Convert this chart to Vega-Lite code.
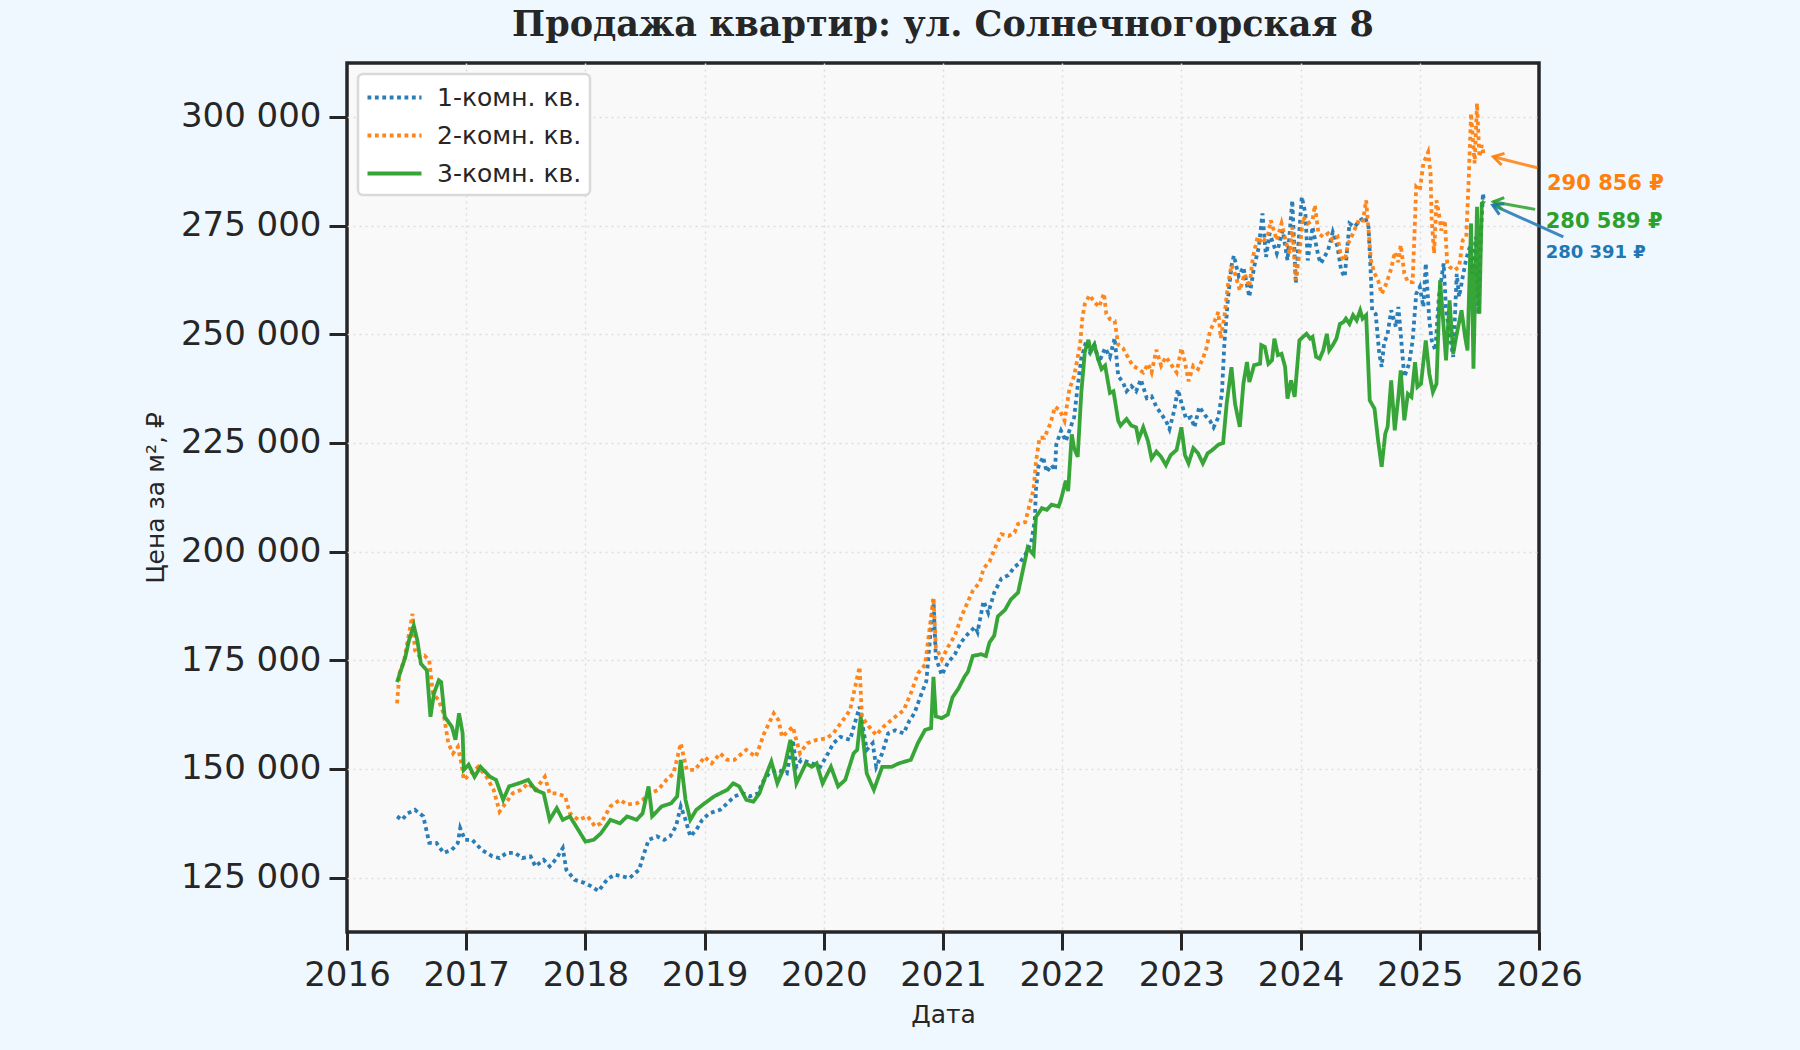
{
  "$schema": "https://vega.github.io/schema/vega-lite/v6.json",
  "description": "Apartment sales price per m2, Solnechnogorskaya 8",
  "autosize": {"type": "none"},
  "width": 1192,
  "height": 869,
  "padding": {"left": 347, "top": 63, "right": 261, "bottom": 118},
  "background": "#f0f8ff",
  "title": {
    "text": "Продажа квартир: ул. Солнечногорская 8",
    "font": "DejaVu Serif",
    "fontSize": 35,
    "fontWeight": "bold",
    "color": "#262626",
    "anchor": "middle",
    "offset": 20
  },
  "config": {
    "view": {"fill": "#f9f9f9", "stroke": "#262626", "strokeWidth": 3.5},
    "axis": {
      "domain": false,
      "labelFont": "DejaVu Sans",
      "labelFontSize": 34,
      "labelColor": "#262626",
      "labelPadding": 8,
      "labelFlush": false,
      "labelOverlap": false,
      "tickColor": "#262626",
      "tickWidth": 3,
      "tickSize": 18,
      "gridColor": "#dddddd",
      "gridDash": [2, 4],
      "gridWidth": 1.5,
      "titleFont": "DejaVu Sans",
      "titleFontSize": 25,
      "titleFontWeight": "normal",
      "titleColor": "#262626"
    },
    "legend": {"strokeWidth": 2.5}
  },
  "datasets": {
    "series": [
      {"k":"1","x":2016.42,"y":139100},{"k":"1","x":2016.46,"y":138300},{"k":"1","x":2016.51,"y":139800},{"k":"1","x":2016.57,"y":140600},
      {"k":"1","x":2016.64,"y":139100},{"k":"1","x":2016.69,"y":133000},{"k":"1","x":2016.75,"y":133000},{"k":"1","x":2016.81,"y":130700},
      {"k":"1","x":2016.88,"y":131400},{"k":"1","x":2016.93,"y":133000},{"k":"1","x":2016.95,"y":136400},{"k":"1","x":2016.99,"y":133700},
      {"k":"1","x":2017.05,"y":133700},{"k":"1","x":2017.13,"y":131400},{"k":"1","x":2017.22,"y":129900},{"k":"1","x":2017.28,"y":129500},
      {"k":"1","x":2017.34,"y":130700},{"k":"1","x":2017.41,"y":130700},{"k":"1","x":2017.47,"y":129500},{"k":"1","x":2017.54,"y":129900},
      {"k":"1","x":2017.58,"y":127600},{"k":"1","x":2017.65,"y":129100},{"k":"1","x":2017.70,"y":127600},{"k":"1","x":2017.76,"y":129500},
      {"k":"1","x":2017.81,"y":131800},{"k":"1","x":2017.84,"y":126800},{"k":"1","x":2017.91,"y":124500},{"k":"1","x":2017.99,"y":123800},
      {"k":"1","x":2018.05,"y":123000},{"k":"1","x":2018.11,"y":121900},{"k":"1","x":2018.18,"y":124500},{"k":"1","x":2018.24,"y":125700},
      {"k":"1","x":2018.31,"y":125300},{"k":"1","x":2018.37,"y":124900},{"k":"1","x":2018.45,"y":126800},{"k":"1","x":2018.48,"y":129500},
      {"k":"1","x":2018.53,"y":133700},{"k":"1","x":2018.60,"y":134500},{"k":"1","x":2018.66,"y":133700},{"k":"1","x":2018.71,"y":134500},
      {"k":"1","x":2018.76,"y":136800},{"k":"1","x":2018.80,"y":141400},{"k":"1","x":2018.84,"y":138300},{"k":"1","x":2018.88,"y":134500},
      {"k":"1","x":2018.93,"y":136000},{"k":"1","x":2018.98,"y":138300},{"k":"1","x":2019.04,"y":139800},{"k":"1","x":2019.13,"y":140600},
      {"k":"1","x":2019.19,"y":142100},{"k":"1","x":2019.25,"y":143700},{"k":"1","x":2019.32,"y":144400},{"k":"1","x":2019.38,"y":143700},
      {"k":"1","x":2019.45,"y":144400},{"k":"1","x":2019.48,"y":146700},{"k":"1","x":2019.54,"y":149000},{"k":"1","x":2019.61,"y":149800},
      {"k":"1","x":2019.69,"y":149000},{"k":"1","x":2019.74,"y":156700},{"k":"1","x":2019.77,"y":150500},{"k":"1","x":2019.81,"y":152100},
      {"k":"1","x":2019.90,"y":151300},{"k":"1","x":2019.97,"y":150500},{"k":"1","x":2020.02,"y":152800},{"k":"1","x":2020.08,"y":155900},
      {"k":"1","x":2020.14,"y":157400},{"k":"1","x":2020.22,"y":156700},{"k":"1","x":2020.30,"y":164300},{"k":"1","x":2020.36,"y":154400},
      {"k":"1","x":2020.41,"y":155900},{"k":"1","x":2020.44,"y":150500},{"k":"1","x":2020.49,"y":153600},{"k":"1","x":2020.54,"y":158200},
      {"k":"1","x":2020.60,"y":158900},{"k":"1","x":2020.67,"y":158200},{"k":"1","x":2020.72,"y":161200},{"k":"1","x":2020.76,"y":162800},
      {"k":"1","x":2020.81,"y":166600},{"k":"1","x":2020.86,"y":170200},{"k":"1","x":2020.92,"y":189000},{"k":"1","x":2020.94,"y":175600},
      {"k":"1","x":2020.99,"y":171600},{"k":"1","x":2021.04,"y":174400},{"k":"1","x":2021.10,"y":176400},{"k":"1","x":2021.15,"y":179100},
      {"k":"1","x":2021.21,"y":181100},{"k":"1","x":2021.27,"y":182700},{"k":"1","x":2021.29,"y":181500},{"k":"1","x":2021.34,"y":188600},
      {"k":"1","x":2021.38,"y":185900},{"k":"1","x":2021.43,"y":190600},{"k":"1","x":2021.49,"y":193800},{"k":"1","x":2021.55,"y":194600},
      {"k":"1","x":2021.60,"y":196500},{"k":"1","x":2021.64,"y":197300},{"k":"1","x":2021.69,"y":199300},{"k":"1","x":2021.74,"y":202100},
      {"k":"1","x":2021.77,"y":207200},{"k":"1","x":2021.78,"y":214300},{"k":"1","x":2021.80,"y":219500},{"k":"1","x":2021.84,"y":221800},
      {"k":"1","x":2021.87,"y":218300},{"k":"1","x":2021.91,"y":219900},{"k":"1","x":2021.94,"y":218700},{"k":"1","x":2021.95,"y":224600},
      {"k":"1","x":2021.99,"y":227800},{"k":"1","x":2022.03,"y":225400},{"k":"1","x":2022.08,"y":229400},{"k":"1","x":2022.10,"y":230900},
      {"k":"1","x":2022.13,"y":238100},{"k":"1","x":2022.16,"y":244400},{"k":"1","x":2022.20,"y":248300},{"k":"1","x":2022.23,"y":246000},
      {"k":"1","x":2022.27,"y":247600},{"k":"1","x":2022.31,"y":243600},{"k":"1","x":2022.36,"y":246800},{"k":"1","x":2022.40,"y":244800},
      {"k":"1","x":2022.44,"y":249100},{"k":"1","x":2022.47,"y":240400},{"k":"1","x":2022.51,"y":238900},{"k":"1","x":2022.54,"y":236900},
      {"k":"1","x":2022.58,"y":238100},{"k":"1","x":2022.62,"y":236900},{"k":"1","x":2022.66,"y":239600},{"k":"1","x":2022.71,"y":235300},
      {"k":"1","x":2022.75,"y":235700},{"k":"1","x":2022.79,"y":233300},{"k":"1","x":2022.83,"y":231700},{"k":"1","x":2022.87,"y":230100},
      {"k":"1","x":2022.90,"y":228200},{"k":"1","x":2022.94,"y":232500},{"k":"1","x":2022.97,"y":237300},{"k":"1","x":2023.01,"y":233300},
      {"k":"1","x":2023.04,"y":230500},{"k":"1","x":2023.08,"y":230900},{"k":"1","x":2023.11,"y":228600},{"k":"1","x":2023.15,"y":233300},
      {"k":"1","x":2023.20,"y":231300},{"k":"1","x":2023.24,"y":230100},{"k":"1","x":2023.27,"y":228600},{"k":"1","x":2023.31,"y":230900},
      {"k":"1","x":2023.34,"y":236500},{"k":"1","x":2023.36,"y":247600},{"k":"1","x":2023.39,"y":258000},{"k":"1","x":2023.42,"y":265700},
      {"k":"1","x":2023.44,"y":268100},{"k":"1","x":2023.48,"y":263400},{"k":"1","x":2023.52,"y":265400},{"k":"1","x":2023.57,"y":258600},
      {"k":"1","x":2023.61,"y":265500},{"k":"1","x":2023.65,"y":270100},{"k":"1","x":2023.68,"y":277800},{"k":"1","x":2023.71,"y":267800},
      {"k":"1","x":2023.74,"y":273200},{"k":"1","x":2023.78,"y":270100},{"k":"1","x":2023.80,"y":268600},{"k":"1","x":2023.85,"y":273900},
      {"k":"1","x":2023.89,"y":267000},{"k":"1","x":2023.93,"y":280800},{"k":"1","x":2023.96,"y":261700},{"k":"1","x":2023.98,"y":270100},
      {"k":"1","x":2024.01,"y":281600},{"k":"1","x":2024.04,"y":277800},{"k":"1","x":2024.06,"y":267000},{"k":"1","x":2024.10,"y":274700},
      {"k":"1","x":2024.15,"y":267800},{"k":"1","x":2024.17,"y":266300},{"k":"1","x":2024.23,"y":269300},{"k":"1","x":2024.27,"y":273500},
      {"k":"1","x":2024.31,"y":270100},{"k":"1","x":2024.34,"y":264700},{"k":"1","x":2024.37,"y":263200},{"k":"1","x":2024.41,"y":275500},
      {"k":"1","x":2024.45,"y":274700},{"k":"1","x":2024.50,"y":276200},{"k":"1","x":2024.54,"y":277000},{"k":"1","x":2024.57,"y":274700},
      {"k":"1","x":2024.59,"y":263200},{"k":"1","x":2024.60,"y":255500},{"k":"1","x":2024.63,"y":254700},{"k":"1","x":2024.66,"y":245500},
      {"k":"1","x":2024.68,"y":242500},{"k":"1","x":2024.70,"y":247900},{"k":"1","x":2024.73,"y":250100},{"k":"1","x":2024.76,"y":255500},
      {"k":"1","x":2024.80,"y":251700},{"k":"1","x":2024.82,"y":256300},{"k":"1","x":2024.84,"y":250100},{"k":"1","x":2024.87,"y":240200},
      {"k":"1","x":2024.91,"y":243200},{"k":"1","x":2024.94,"y":248600},{"k":"1","x":2024.97,"y":259300},{"k":"1","x":2025.00,"y":260900},
      {"k":"1","x":2025.03,"y":256300},{"k":"1","x":2025.05,"y":266300},{"k":"1","x":2025.08,"y":253200},{"k":"1","x":2025.10,"y":248600},
      {"k":"1","x":2025.13,"y":246300},{"k":"1","x":2025.16,"y":258600},{"k":"1","x":2025.20,"y":266300},{"k":"1","x":2025.22,"y":255500},
      {"k":"1","x":2025.25,"y":250100},{"k":"1","x":2025.28,"y":244800},{"k":"1","x":2025.31,"y":263900},{"k":"1","x":2025.33,"y":258600},
      {"k":"1","x":2025.36,"y":263200},{"k":"1","x":2025.39,"y":267400},{"k":"1","x":2025.42,"y":270100},{"k":"1","x":2025.44,"y":263900},
      {"k":"1","x":2025.47,"y":272400},{"k":"1","x":2025.49,"y":254700},{"k":"1","x":2025.51,"y":271600},{"k":"1","x":2025.53,"y":282400},
      {"k":"1","x":2025.54,"y":280391},

      {"k":"2","x":2016.42,"y":165100},{"k":"2","x":2016.44,"y":172000},{"k":"2","x":2016.48,"y":175000},{"k":"2","x":2016.52,"y":181100},
      {"k":"2","x":2016.55,"y":185700},{"k":"2","x":2016.57,"y":177300},{"k":"2","x":2016.61,"y":175800},{"k":"2","x":2016.65,"y":176100},
      {"k":"2","x":2016.69,"y":175000},{"k":"2","x":2016.72,"y":167400},{"k":"2","x":2016.77,"y":165800},{"k":"2","x":2016.81,"y":162800},
      {"k":"2","x":2016.85,"y":155900},{"k":"2","x":2016.89,"y":153600},{"k":"2","x":2016.93,"y":155100},{"k":"2","x":2016.96,"y":151300},
      {"k":"2","x":2016.98,"y":147500},{"k":"2","x":2017.04,"y":149000},{"k":"2","x":2017.10,"y":150500},{"k":"2","x":2017.17,"y":148200},
      {"k":"2","x":2017.23,"y":145200},{"k":"2","x":2017.28,"y":140200},{"k":"2","x":2017.33,"y":142100},{"k":"2","x":2017.39,"y":144400},
      {"k":"2","x":2017.46,"y":145200},{"k":"2","x":2017.52,"y":146700},{"k":"2","x":2017.58,"y":145200},{"k":"2","x":2017.66,"y":148200},
      {"k":"2","x":2017.70,"y":144400},{"k":"2","x":2017.76,"y":144400},{"k":"2","x":2017.83,"y":143700},{"k":"2","x":2017.87,"y":139800},
      {"k":"2","x":2017.94,"y":138300},{"k":"2","x":2018.02,"y":139100},{"k":"2","x":2018.08,"y":136800},{"k":"2","x":2018.13,"y":137500},
      {"k":"2","x":2018.21,"y":141400},{"k":"2","x":2018.29,"y":142900},{"k":"2","x":2018.35,"y":141800},{"k":"2","x":2018.43,"y":142100},
      {"k":"2","x":2018.48,"y":142900},{"k":"2","x":2018.54,"y":144400},{"k":"2","x":2018.61,"y":145200},{"k":"2","x":2018.68,"y":147500},
      {"k":"2","x":2018.74,"y":149000},{"k":"2","x":2018.80,"y":155900},{"k":"2","x":2018.85,"y":149800},{"k":"2","x":2018.92,"y":149800},
      {"k":"2","x":2019.00,"y":152800},{"k":"2","x":2019.06,"y":151300},{"k":"2","x":2019.13,"y":153600},{"k":"2","x":2019.19,"y":152100},
      {"k":"2","x":2019.25,"y":152100},{"k":"2","x":2019.35,"y":154400},{"k":"2","x":2019.43,"y":152800},{"k":"2","x":2019.50,"y":158200},
      {"k":"2","x":2019.58,"y":162800},{"k":"2","x":2019.62,"y":161200},{"k":"2","x":2019.65,"y":157400},{"k":"2","x":2019.74,"y":159700},
      {"k":"2","x":2019.80,"y":153600},{"k":"2","x":2019.86,"y":155900},{"k":"2","x":2019.94,"y":156700},{"k":"2","x":2020.02,"y":157000},
      {"k":"2","x":2020.08,"y":158200},{"k":"2","x":2020.16,"y":161200},{"k":"2","x":2020.22,"y":163500},{"k":"2","x":2020.30,"y":173500},
      {"k":"2","x":2020.32,"y":162000},{"k":"2","x":2020.38,"y":159700},{"k":"2","x":2020.44,"y":157800},{"k":"2","x":2020.50,"y":159700},
      {"k":"2","x":2020.60,"y":162000},{"k":"2","x":2020.67,"y":163500},{"k":"2","x":2020.73,"y":167400},{"k":"2","x":2020.79,"y":172000},
      {"k":"2","x":2020.85,"y":174000},{"k":"2","x":2020.92,"y":189400},{"k":"2","x":2020.94,"y":178000},{"k":"2","x":2020.99,"y":175200},
      {"k":"2","x":2021.04,"y":178000},{"k":"2","x":2021.10,"y":180700},{"k":"2","x":2021.15,"y":184700},{"k":"2","x":2021.21,"y":188600},
      {"k":"2","x":2021.25,"y":191000},{"k":"2","x":2021.31,"y":193000},{"k":"2","x":2021.34,"y":196100},{"k":"2","x":2021.39,"y":197700},
      {"k":"2","x":2021.45,"y":201700},{"k":"2","x":2021.49,"y":204000},{"k":"2","x":2021.55,"y":203600},{"k":"2","x":2021.60,"y":204400},
      {"k":"2","x":2021.63,"y":206400},{"k":"2","x":2021.69,"y":206800},{"k":"2","x":2021.73,"y":211200},{"k":"2","x":2021.76,"y":214300},
      {"k":"2","x":2021.78,"y":220700},{"k":"2","x":2021.81,"y":226200},{"k":"2","x":2021.85,"y":226200},{"k":"2","x":2021.90,"y":229400},
      {"k":"2","x":2021.94,"y":233300},{"k":"2","x":2021.98,"y":232500},{"k":"2","x":2022.02,"y":230100},{"k":"2","x":2022.06,"y":237300},
      {"k":"2","x":2022.10,"y":240400},{"k":"2","x":2022.15,"y":247600},{"k":"2","x":2022.17,"y":253900},{"k":"2","x":2022.19,"y":257000},
      {"k":"2","x":2022.23,"y":259000},{"k":"2","x":2022.27,"y":257400},{"k":"2","x":2022.31,"y":256300},{"k":"2","x":2022.35,"y":259400},
      {"k":"2","x":2022.37,"y":254700},{"k":"2","x":2022.40,"y":253500},{"k":"2","x":2022.44,"y":253100},{"k":"2","x":2022.47,"y":247600},
      {"k":"2","x":2022.51,"y":246800},{"k":"2","x":2022.55,"y":244800},{"k":"2","x":2022.59,"y":242800},{"k":"2","x":2022.64,"y":242000},
      {"k":"2","x":2022.68,"y":241200},{"k":"2","x":2022.72,"y":243200},{"k":"2","x":2022.75,"y":241200},{"k":"2","x":2022.79,"y":246400},
      {"k":"2","x":2022.83,"y":242800},{"k":"2","x":2022.87,"y":244800},{"k":"2","x":2022.92,"y":242800},{"k":"2","x":2022.96,"y":241200},
      {"k":"2","x":2023.00,"y":246800},{"k":"2","x":2023.03,"y":243600},{"k":"2","x":2023.06,"y":239200},{"k":"2","x":2023.10,"y":242800},
      {"k":"2","x":2023.14,"y":242000},{"k":"2","x":2023.18,"y":244400},{"k":"2","x":2023.21,"y":246800},{"k":"2","x":2023.24,"y":250700},
      {"k":"2","x":2023.28,"y":253100},{"k":"2","x":2023.31,"y":255100},{"k":"2","x":2023.33,"y":249100},{"k":"2","x":2023.36,"y":253900},
      {"k":"2","x":2023.39,"y":261300},{"k":"2","x":2023.42,"y":265900},{"k":"2","x":2023.45,"y":263900},{"k":"2","x":2023.49,"y":260100},
      {"k":"2","x":2023.53,"y":263900},{"k":"2","x":2023.57,"y":260900},{"k":"2","x":2023.60,"y":267800},{"k":"2","x":2023.64,"y":272400},
      {"k":"2","x":2023.68,"y":270900},{"k":"2","x":2023.73,"y":273200},{"k":"2","x":2023.75,"y":276200},{"k":"2","x":2023.80,"y":271600},
      {"k":"2","x":2023.84,"y":275500},{"k":"2","x":2023.88,"y":270900},{"k":"2","x":2023.91,"y":268600},{"k":"2","x":2023.93,"y":274700},
      {"k":"2","x":2023.96,"y":262400},{"k":"2","x":2023.99,"y":268600},{"k":"2","x":2024.02,"y":277000},{"k":"2","x":2024.06,"y":275500},
      {"k":"2","x":2024.10,"y":276200},{"k":"2","x":2024.12,"y":279700},{"k":"2","x":2024.15,"y":273200},{"k":"2","x":2024.19,"y":272400},
      {"k":"2","x":2024.23,"y":273200},{"k":"2","x":2024.27,"y":271600},{"k":"2","x":2024.31,"y":272400},{"k":"2","x":2024.34,"y":267800},
      {"k":"2","x":2024.37,"y":267000},{"k":"2","x":2024.40,"y":270900},{"k":"2","x":2024.44,"y":273200},{"k":"2","x":2024.48,"y":275800},
      {"k":"2","x":2024.52,"y":275500},{"k":"2","x":2024.55,"y":280800},{"k":"2","x":2024.57,"y":273900},{"k":"2","x":2024.59,"y":267000},
      {"k":"2","x":2024.62,"y":264000},{"k":"2","x":2024.65,"y":262400},{"k":"2","x":2024.68,"y":259300},{"k":"2","x":2024.72,"y":261700},
      {"k":"2","x":2024.76,"y":265100},{"k":"2","x":2024.79,"y":268900},{"k":"2","x":2024.82,"y":266600},{"k":"2","x":2024.84,"y":270500},
      {"k":"2","x":2024.87,"y":264000},{"k":"2","x":2024.90,"y":262000},{"k":"2","x":2024.94,"y":262000},{"k":"2","x":2024.97,"y":283900},
      {"k":"2","x":2025.00,"y":283100},{"k":"2","x":2025.03,"y":289300},{"k":"2","x":2025.07,"y":291900},{"k":"2","x":2025.09,"y":287000},
      {"k":"2","x":2025.10,"y":276200},{"k":"2","x":2025.12,"y":268600},{"k":"2","x":2025.14,"y":280800},{"k":"2","x":2025.16,"y":277800},
      {"k":"2","x":2025.18,"y":273900},{"k":"2","x":2025.21,"y":276200},{"k":"2","x":2025.23,"y":266300},{"k":"2","x":2025.25,"y":265500},
      {"k":"2","x":2025.29,"y":264700},{"k":"2","x":2025.33,"y":265500},{"k":"2","x":2025.36,"y":271600},{"k":"2","x":2025.39,"y":272400},
      {"k":"2","x":2025.41,"y":285400},{"k":"2","x":2025.43,"y":300800},{"k":"2","x":2025.46,"y":289300},{"k":"2","x":2025.48,"y":303100},
      {"k":"2","x":2025.50,"y":290800},{"k":"2","x":2025.52,"y":293500},{"k":"2","x":2025.54,"y":290856},

      {"k":"3","x":2016.42,"y":170000},{"k":"3","x":2016.49,"y":175800},{"k":"3","x":2016.52,"y":179600},{"k":"3","x":2016.56,"y":183000},
      {"k":"3","x":2016.59,"y":179600},{"k":"3","x":2016.62,"y":174200},{"k":"3","x":2016.67,"y":172700},{"k":"3","x":2016.70,"y":162000},
      {"k":"3","x":2016.73,"y":167400},{"k":"3","x":2016.77,"y":170400},{"k":"3","x":2016.79,"y":170000},{"k":"3","x":2016.82,"y":162000},
      {"k":"3","x":2016.88,"y":159700},{"k":"3","x":2016.91,"y":156700},{"k":"3","x":2016.94,"y":162800},{"k":"3","x":2016.97,"y":158200},
      {"k":"3","x":2016.98,"y":149800},{"k":"3","x":2017.02,"y":151000},{"k":"3","x":2017.07,"y":148200},{"k":"3","x":2017.12,"y":150500},
      {"k":"3","x":2017.20,"y":148200},{"k":"3","x":2017.25,"y":147500},{"k":"3","x":2017.31,"y":142900},{"k":"3","x":2017.36,"y":146000},
      {"k":"3","x":2017.44,"y":146700},{"k":"3","x":2017.52,"y":147500},{"k":"3","x":2017.58,"y":145200},{"k":"3","x":2017.65,"y":144400},
      {"k":"3","x":2017.70,"y":138300},{"k":"3","x":2017.76,"y":141000},{"k":"3","x":2017.81,"y":138300},{"k":"3","x":2017.87,"y":139100},
      {"k":"3","x":2017.94,"y":136000},{"k":"3","x":2018.00,"y":133300},{"k":"3","x":2018.07,"y":133700},{"k":"3","x":2018.13,"y":135200},
      {"k":"3","x":2018.21,"y":138300},{"k":"3","x":2018.29,"y":137500},{"k":"3","x":2018.35,"y":139100},{"k":"3","x":2018.43,"y":138300},
      {"k":"3","x":2018.48,"y":139800},{"k":"3","x":2018.53,"y":146000},{"k":"3","x":2018.56,"y":139100},{"k":"3","x":2018.64,"y":141400},
      {"k":"3","x":2018.72,"y":142100},{"k":"3","x":2018.77,"y":143700},{"k":"3","x":2018.80,"y":152100},{"k":"3","x":2018.84,"y":142900},
      {"k":"3","x":2018.88,"y":138300},{"k":"3","x":2018.93,"y":140600},{"k":"3","x":2019.00,"y":142100},{"k":"3","x":2019.08,"y":143700},
      {"k":"3","x":2019.13,"y":144400},{"k":"3","x":2019.19,"y":145200},{"k":"3","x":2019.24,"y":146700},{"k":"3","x":2019.29,"y":146000},
      {"k":"3","x":2019.35,"y":142900},{"k":"3","x":2019.41,"y":142500},{"k":"3","x":2019.46,"y":144400},{"k":"3","x":2019.51,"y":148200},
      {"k":"3","x":2019.56,"y":151700},{"k":"3","x":2019.61,"y":146700},{"k":"3","x":2019.67,"y":150500},{"k":"3","x":2019.72,"y":156700},
      {"k":"3","x":2019.77,"y":146700},{"k":"3","x":2019.85,"y":151300},{"k":"3","x":2019.90,"y":150500},{"k":"3","x":2019.94,"y":151300},
      {"k":"3","x":2019.99,"y":146700},{"k":"3","x":2020.06,"y":150500},{"k":"3","x":2020.12,"y":146000},{"k":"3","x":2020.18,"y":147500},
      {"k":"3","x":2020.25,"y":153600},{"k":"3","x":2020.28,"y":154400},{"k":"3","x":2020.31,"y":162000},{"k":"3","x":2020.36,"y":149000},
      {"k":"3","x":2020.42,"y":145200},{"k":"3","x":2020.49,"y":150500},{"k":"3","x":2020.57,"y":150500},{"k":"3","x":2020.63,"y":151300},
      {"k":"3","x":2020.73,"y":152100},{"k":"3","x":2020.79,"y":156000},{"k":"3","x":2020.85,"y":159000},{"k":"3","x":2020.90,"y":159400},
      {"k":"3","x":2020.92,"y":171200},{"k":"3","x":2020.94,"y":162100},{"k":"3","x":2020.99,"y":161700},{"k":"3","x":2021.04,"y":162500},
      {"k":"3","x":2021.08,"y":166500},{"k":"3","x":2021.13,"y":168500},{"k":"3","x":2021.18,"y":171200},{"k":"3","x":2021.21,"y":172400},
      {"k":"3","x":2021.25,"y":176000},{"k":"3","x":2021.32,"y":176400},{"k":"3","x":2021.36,"y":176000},{"k":"3","x":2021.39,"y":179100},
      {"k":"3","x":2021.43,"y":180700},{"k":"3","x":2021.46,"y":185100},{"k":"3","x":2021.52,"y":186600},{"k":"3","x":2021.57,"y":189000},
      {"k":"3","x":2021.63,"y":190600},{"k":"3","x":2021.67,"y":195700},{"k":"3","x":2021.71,"y":200900},{"k":"3","x":2021.76,"y":199300},
      {"k":"3","x":2021.78,"y":208000},{"k":"3","x":2021.83,"y":210000},{"k":"3","x":2021.87,"y":209600},{"k":"3","x":2021.91,"y":210800},
      {"k":"3","x":2021.97,"y":210400},{"k":"3","x":2021.99,"y":212000},{"k":"3","x":2022.03,"y":216300},{"k":"3","x":2022.05,"y":213900},
      {"k":"3","x":2022.08,"y":227000},{"k":"3","x":2022.10,"y":223800},{"k":"3","x":2022.13,"y":221800},{"k":"3","x":2022.16,"y":236500},
      {"k":"3","x":2022.19,"y":246000},{"k":"3","x":2022.22,"y":248700},{"k":"3","x":2022.24,"y":246000},{"k":"3","x":2022.27,"y":247600},
      {"k":"3","x":2022.30,"y":244400},{"k":"3","x":2022.33,"y":242000},{"k":"3","x":2022.36,"y":242800},{"k":"3","x":2022.40,"y":236500},
      {"k":"3","x":2022.43,"y":236900},{"k":"3","x":2022.47,"y":230100},{"k":"3","x":2022.49,"y":229000},{"k":"3","x":2022.54,"y":230500},
      {"k":"3","x":2022.58,"y":229000},{"k":"3","x":2022.62,"y":228600},{"k":"3","x":2022.64,"y":225800},{"k":"3","x":2022.68,"y":228600},
      {"k":"3","x":2022.72,"y":225400},{"k":"3","x":2022.75,"y":221400},{"k":"3","x":2022.79,"y":223000},{"k":"3","x":2022.83,"y":221800},
      {"k":"3","x":2022.87,"y":219900},{"k":"3","x":2022.91,"y":222200},{"k":"3","x":2022.96,"y":223400},{"k":"3","x":2023.00,"y":228600},
      {"k":"3","x":2023.03,"y":222200},{"k":"3","x":2023.06,"y":220300},{"k":"3","x":2023.10,"y":223800},{"k":"3","x":2023.14,"y":222600},
      {"k":"3","x":2023.18,"y":220300},{"k":"3","x":2023.22,"y":222600},{"k":"3","x":2023.26,"y":223400},{"k":"3","x":2023.31,"y":224600},
      {"k":"3","x":2023.35,"y":225000},{"k":"3","x":2023.38,"y":234100},{"k":"3","x":2023.42,"y":242400},{"k":"3","x":2023.45,"y":234000},
      {"k":"3","x":2023.49,"y":228700},{"k":"3","x":2023.52,"y":238600},{"k":"3","x":2023.55,"y":243600},{"k":"3","x":2023.57,"y":239000},
      {"k":"3","x":2023.61,"y":242900},{"k":"3","x":2023.66,"y":243200},{"k":"3","x":2023.67,"y":247500},{"k":"3","x":2023.70,"y":247100},
      {"k":"3","x":2023.73,"y":243200},{"k":"3","x":2023.76,"y":244000},{"k":"3","x":2023.78,"y":249000},{"k":"3","x":2023.81,"y":245200},
      {"k":"3","x":2023.84,"y":245500},{"k":"3","x":2023.87,"y":242500},{"k":"3","x":2023.89,"y":235200},{"k":"3","x":2023.92,"y":239400},
      {"k":"3","x":2023.95,"y":235600},{"k":"3","x":2023.99,"y":248600},{"k":"3","x":2024.02,"y":249400},{"k":"3","x":2024.05,"y":250100},
      {"k":"3","x":2024.08,"y":249000},{"k":"3","x":2024.10,"y":249400},{"k":"3","x":2024.13,"y":244800},{"k":"3","x":2024.16,"y":244400},
      {"k":"3","x":2024.19,"y":246300},{"k":"3","x":2024.22,"y":250100},{"k":"3","x":2024.24,"y":246300},{"k":"3","x":2024.27,"y":247500},
      {"k":"3","x":2024.30,"y":249000},{"k":"3","x":2024.33,"y":252400},{"k":"3","x":2024.36,"y":252800},{"k":"3","x":2024.38,"y":253600},
      {"k":"3","x":2024.41,"y":252400},{"k":"3","x":2024.44,"y":254400},{"k":"3","x":2024.47,"y":253200},{"k":"3","x":2024.50,"y":255500},
      {"k":"3","x":2024.52,"y":253600},{"k":"3","x":2024.55,"y":254400},{"k":"3","x":2024.58,"y":234800},{"k":"3","x":2024.62,"y":232900},
      {"k":"3","x":2024.65,"y":225600},{"k":"3","x":2024.68,"y":219500},{"k":"3","x":2024.71,"y":227100},{"k":"3","x":2024.73,"y":228700},
      {"k":"3","x":2024.76,"y":239400},{"k":"3","x":2024.79,"y":227900},{"k":"3","x":2024.82,"y":235600},{"k":"3","x":2024.84,"y":241700},
      {"k":"3","x":2024.87,"y":230200},{"k":"3","x":2024.90,"y":236300},{"k":"3","x":2024.93,"y":235600},{"k":"3","x":2024.96,"y":243600},
      {"k":"3","x":2024.98,"y":237900},{"k":"3","x":2025.01,"y":238600},{"k":"3","x":2025.05,"y":248600},{"k":"3","x":2025.08,"y":240900},
      {"k":"3","x":2025.11,"y":236700},{"k":"3","x":2025.14,"y":238600},{"k":"3","x":2025.17,"y":262400},{"k":"3","x":2025.20,"y":251700},
      {"k":"3","x":2025.22,"y":244000},{"k":"3","x":2025.25,"y":257800},{"k":"3","x":2025.28,"y":245500},{"k":"3","x":2025.31,"y":250100},
      {"k":"3","x":2025.35,"y":255500},{"k":"3","x":2025.38,"y":249400},{"k":"3","x":2025.40,"y":246300},{"k":"3","x":2025.43,"y":275500},
      {"k":"3","x":2025.45,"y":242100},{"k":"3","x":2025.48,"y":279300},{"k":"3","x":2025.50,"y":254700},{"k":"3","x":2025.52,"y":280100},
      {"k":"3","x":2025.54,"y":280589}
    ],
    "notes": [
      {"k":"2","tx":2025.987,"ty":288293,"hx":2025.617,"hy":290823,"lx":2026.067,"ly":284545,"label":"290 856 ₽"},
      {"k":"3","tx":2025.968,"ty":278726,"hx":2025.617,"hy":280474,"lx":2026.056,"ly":275735,"label":"280 589 ₽"},
      {"k":"1","tx":2026.204,"ty":272424,"hx":2025.612,"hy":279715,"lx":2026.056,"ly":268700,"label":"280 391 ₽"}
    ]
  },
  "layer": [
    {
      "data": {"name": "series"},
      "mark": {"type": "line", "strokeWidth": 3.8, "opacity": 0.95},
      "encoding": {
        "x": {
          "field": "x", "type": "quantitative",
          "scale": {"domain": [2016, 2026], "nice": false, "zero": false},
          "axis": {
            "values": [2016, 2017, 2018, 2019, 2020, 2021, 2022, 2023, 2024, 2025, 2026],
            "format": "d", "title": "Дата", "titlePadding": 10,
            "gridOpacity": {"condition": {"test": "datum.value === 2016 || datum.value === 2026", "value": 0}, "value": 1}
          }
        },
        "y": {
          "field": "y", "type": "quantitative",
          "scale": {"domain": [112500, 312400], "nice": false, "zero": false},
          "axis": {"values": [125000, 150000, 175000, 200000, 225000, 250000, 275000, 300000], "labelExpr": "format(datum.value / 1000, 'd') + ' 000'", "title": "Цена за м², ₽", "titlePadding": 12}
        },
        "color": {
          "field": "k", "type": "nominal",
          "scale": {"domain": ["1", "2", "3"], "range": ["#1f77b4", "#ff7f0e", "#2ca02c"]},
          "legend": {
            "title": null, "orient": "top-left", "offset": 11,
            "labelExpr": "datum.label + '-комн. кв.'",
            "labelFont": "DejaVu Sans", "labelFontSize": 25, "labelColor": "#262626",
            "symbolType": "M-2,0H2", "symbolSize": 729, "symbolStrokeWidth": 3.8, "symbolOffset": 13,
            "labelOffset": 27, "rowPadding": 9, "padding": 8,
            "fillColor": "#ffffff", "strokeColor": "#d9d9d9", "cornerRadius": 5
          }
        },
        "strokeDash": {
          "field": "k", "type": "nominal",
          "scale": {"domain": ["1", "2", "3"], "range": [[3.8, 3.6], [3.8, 3.6], [1, 0]]},
          "legend": {
            "title": null, "orient": "top-left", "offset": 11,
            "labelExpr": "datum.label + '-комн. кв.'",
            "labelFont": "DejaVu Sans", "labelFontSize": 25, "labelColor": "#262626",
            "symbolType": "M-2,0H2", "symbolSize": 729, "symbolStrokeWidth": 3.8, "symbolOffset": 13,
            "labelOffset": 27, "rowPadding": 9, "padding": 8,
            "fillColor": "#ffffff", "strokeColor": "#d9d9d9", "cornerRadius": 5
          }
        }
      }
    },
    {
      "data": {"name": "notes"},
      "mark": {"type": "rule", "strokeWidth": 3, "opacity": 0.85},
      "encoding": {
        "x": {"field": "tx", "type": "quantitative"},
        "y": {"field": "ty", "type": "quantitative"},
        "x2": {"field": "hx"},
        "y2": {"field": "hy"},
        "color": {"field": "k", "type": "nominal", "legend": null}
      }
    },
    {
      "data": {"name": "notes"},
      "mark": {"type": "point", "shape": "M-1,-0.6L0,0L-1,0.6", "filled": false, "size": 400, "strokeWidth": 3, "opacity": 0.9},
      "encoding": {
        "x": {"field": "hx", "type": "quantitative"},
        "y": {"field": "hy", "type": "quantitative"},
        "angle": {"condition": [{"test": "datum.k === '1'", "value": 204}, {"test": "datum.k === '3'", "value": 190}], "value": 194},
        "color": {"field": "k", "type": "nominal", "legend": null}
      }
    },
    {
      "data": {"name": "notes"},
      "mark": {"type": "text", "align": "left", "baseline": "middle", "font": "DejaVu Sans", "fontWeight": "bold"},
      "encoding": {
        "x": {"field": "lx", "type": "quantitative"},
        "y": {"field": "ly", "type": "quantitative"},
        "text": {"field": "label"},
        "size": {"condition": {"test": "datum.k === '1'", "value": 18}, "value": 21},
        "color": {"field": "k", "type": "nominal", "legend": null}
      }
    }
  ]
}
